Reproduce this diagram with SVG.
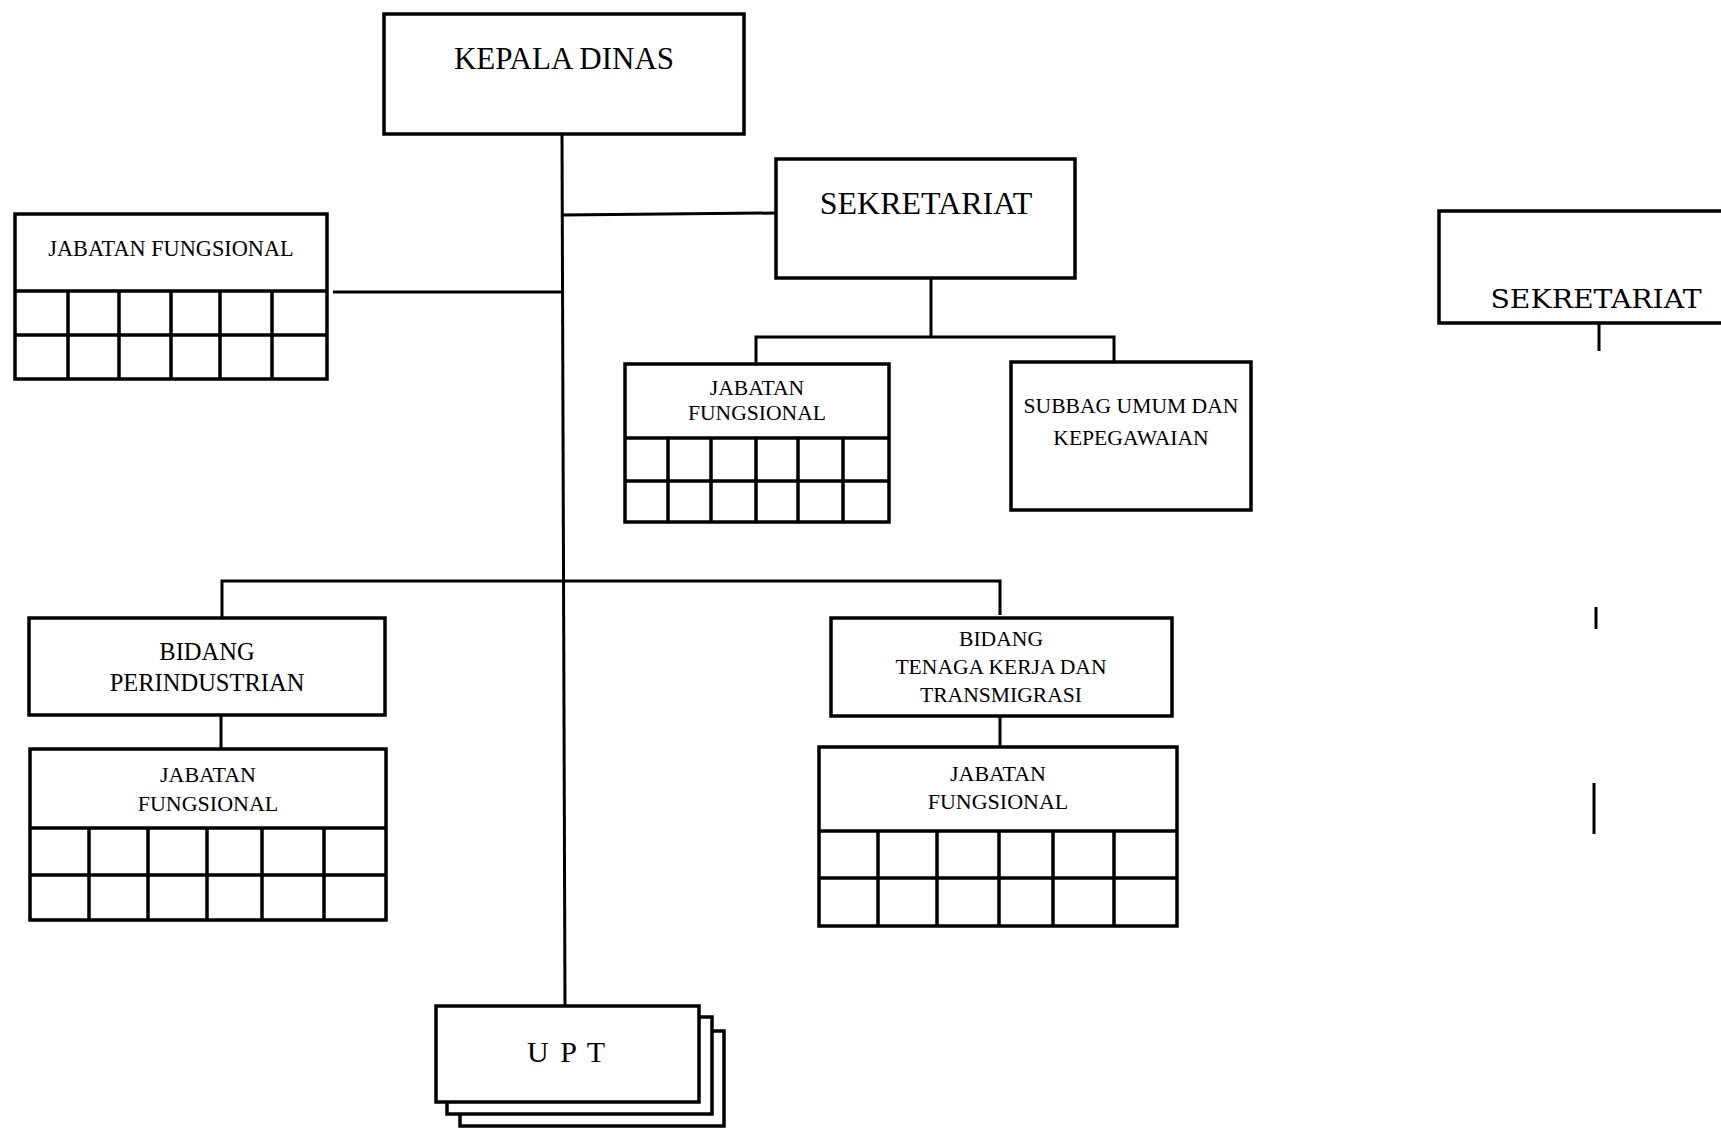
<svg xmlns="http://www.w3.org/2000/svg" width="1721" height="1128" viewBox="0 0 1721 1128">
<style>
.box{fill:#fff;stroke:#000;stroke-width:3.5}
.grid{fill:none;stroke:#000;stroke-width:3.5}
.ln{fill:none;stroke:#000;stroke-width:3}
.t{font-family:"Liberation Serif",serif;fill:#000;text-anchor:middle}
.s{font-size:21.6px}
.m{font-size:22px}
.l{font-size:30px}
</style>
<rect width="1721" height="1128" fill="#fff"/>
<g id="connectors">
<line class="ln" x1="562" y1="134" x2="565" y2="1006"/>
<line class="ln" x1="562" y1="215" x2="776" y2="213"/>
<line class="ln" x1="333" y1="292" x2="562" y2="292"/>
<line class="ln" x1="931" y1="278" x2="931" y2="337"/>
<polyline class="ln" points="756,364 756,337 1114,337 1114,362"/>
<polyline class="ln" points="222,618 222,581 1000,581 1000,615"/>
<line class="ln" x1="221" y1="715" x2="221" y2="749"/>
<line class="ln" x1="1000" y1="716" x2="1000" y2="747"/>
<line class="ln" x1="1599" y1="323" x2="1599" y2="351" stroke-width="4"/>
<line class="ln" x1="1596" y1="607" x2="1596" y2="629" stroke-width="4.5"/>
<line class="ln" x1="1594" y1="783" x2="1594" y2="834" stroke-width="4"/>
</g>
<g id="kepala-dinas">
<rect class="box" x="384" y="14" width="360" height="120"/>
<text class="t" x="564" y="69" font-size="31">KEPALA DINAS</text>
</g>
<g id="sekretariat">
<rect class="box" x="776" y="159" width="299" height="119"/>
<text class="t" x="926" y="214" font-size="32">SEKRETARIAT</text>
</g>
<g id="jabatan-fungsional-kadis">
<rect class="box" x="15" y="214" width="312" height="165"/>
<path class="grid" d="M15 291H327M15 335H327M68 291V379M119 291V379M171 291V379M220 291V379M272 291V379"/>
<text class="t" x="171" y="256" font-size="22.3">JABATAN FUNGSIONAL</text>
</g>
<g id="jabatan-fungsional-sekretariat">
<rect class="box" x="625" y="364" width="264" height="158"/>
<path class="grid" d="M625 438H889M625 481H889M668 438V522M711 438V522M756 438V522M798 438V522M843 438V522"/>
<text class="t s" x="757" y="395">JABATAN</text>
<text class="t s" x="757" y="420">FUNGSIONAL</text>
</g>
<g id="subbag-umum">
<rect class="box" x="1011" y="362" width="240" height="148"/>
<text class="t s" x="1131" y="413">SUBBAG UMUM DAN</text>
<text class="t s" x="1131" y="445">KEPEGAWAIAN</text>
</g>
<g id="bidang-perindustrian">
<rect class="box" x="29" y="618" width="356" height="97"/>
<text class="t" x="207" y="660" font-size="24.5">BIDANG</text>
<text class="t" x="207" y="691" font-size="24.5">PERINDUSTRIAN</text>
</g>
<g id="jabatan-fungsional-perindustrian">
<rect class="box" x="30" y="749" width="356" height="171"/>
<path class="grid" d="M30 828H386M30 875H386M89 828V920M148 828V920M207 828V920M262 828V920M324 828V920"/>
<text class="t m" x="208" y="782">JABATAN</text>
<text class="t m" x="208" y="811">FUNGSIONAL</text>
</g>
<g id="bidang-tenaga-kerja">
<rect class="box" x="831" y="618" width="341" height="98"/>
<text class="t s" x="1001" y="646">BIDANG</text>
<text class="t s" x="1001" y="674">TENAGA KERJA DAN</text>
<text class="t s" x="1001" y="702">TRANSMIGRASI</text>
</g>
<g id="jabatan-fungsional-tenaga-kerja">
<rect class="box" x="819" y="747" width="358" height="179"/>
<path class="grid" d="M819 831H1177M819 878H1177M878 831V926M937 831V926M999 831V926M1053 831V926M1114 831V926"/>
<text class="t m" x="998" y="781">JABATAN</text>
<text class="t m" x="998" y="809">FUNGSIONAL</text>
</g>
<g id="upt">
<rect class="box" x="460" y="1031" width="264" height="95"/>
<rect class="box" x="447" y="1017" width="265" height="97"/>
<rect class="box" x="436" y="1006" width="263" height="96"/>
<text class="t l" x="567" y="1062" letter-spacing="2">U P T</text>
</g>
<g id="sekretariat-right">
<path class="box" d="M1723 211H1439V323H1723"/>
<text x="1596" y="308" font-family="DejaVu Serif, serif" font-size="26" text-anchor="middle" textLength="211" lengthAdjust="spacingAndGlyphs">SEKRETARIAT</text>
</g>
</svg>
